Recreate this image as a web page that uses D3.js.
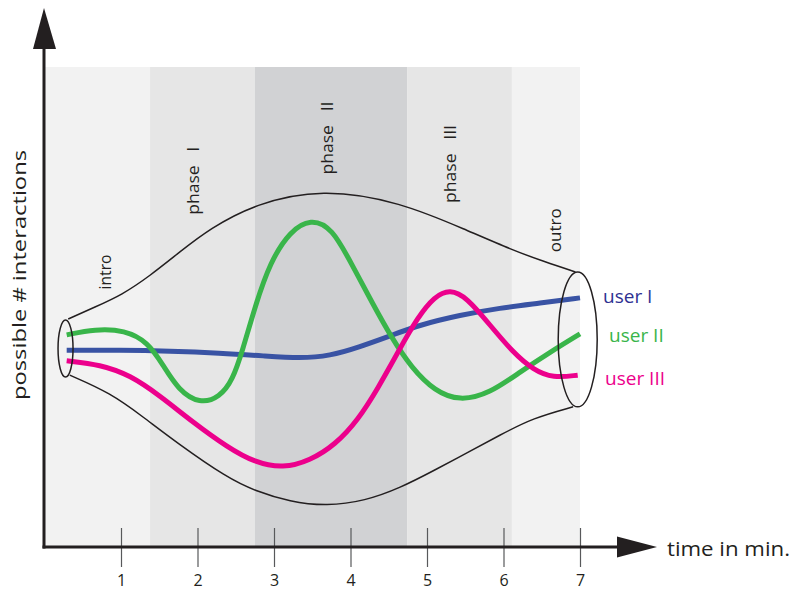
<!DOCTYPE html>
<html>
<head>
<meta charset="utf-8">
<script src="https://cdn.jsdelivr.net/npm/d3@7"></script>
<style>
  html, body { margin: 0; padding: 0; background: #ffffff; }
  svg { display: block; }
  text { font-family: "Open Sans", "Noto Sans", sans-serif; fill: #231f20; }
</style>
</head>
<body>
<svg id="chart" width="794" height="591"></svg>
<script>
// ---------------- data ----------------
const tickValues = [1, 2, 3, 4, 5, 6, 7];

const phaseNames = ["intro", "phase   I", "phase   II", "phase   III", "outro"];
const phaseStart = [0, 1.38, 2.75, 4.74, 6.11];
const phaseEnd   = [1.38, 2.75, 4.74, 6.11, 7.0];

const seriesNames = ["user I", "user II", "user III"];

// [time in min, possible # interactions]
const userI = [
  [0.29, 4.10], [0.99, 4.10], [1.64, 4.08], [2.29, 4.04], [2.88, 3.98],
  [3.34, 3.93], [3.73, 3.98], [4.12, 4.17], [4.52, 4.40], [4.91, 4.63],
  [5.43, 4.83], [5.95, 4.98], [6.48, 5.08], [7.00, 5.19]
];
const userII = [
  [0.29, 4.42], [0.66, 4.54], [1.05, 4.52], [1.35, 4.27], [1.55, 3.79],
  [1.75, 3.27], [2.03, 2.98], [2.29, 3.12], [2.46, 3.48], [2.59, 4.10],
  [2.75, 5.00], [2.95, 5.94], [3.21, 6.58], [3.48, 6.84], [3.76, 6.65],
  [4.02, 5.88], [4.28, 5.10], [4.54, 4.35], [4.80, 3.73], [5.10, 3.25],
  [5.43, 3.04], [5.82, 3.20], [6.22, 3.65], [6.61, 4.06], [7.00, 4.44]
];
const userIII = [
  [0.29, 3.88], [0.73, 3.80], [1.12, 3.58], [1.51, 3.15], [1.94, 2.60],
  [2.39, 2.08], [2.75, 1.76], [3.12, 1.64], [3.47, 1.80], [3.80, 2.13],
  [4.10, 2.65], [4.36, 3.31], [4.62, 4.06], [4.88, 4.79], [5.10, 5.22],
  [5.30, 5.37], [5.52, 5.20], [5.82, 4.63], [6.12, 4.06], [6.39, 3.69],
  [6.65, 3.52], [6.97, 3.58]
];

// envelope of possible interactions
const envelopeTop = [
  [0.31, 4.75], [0.66, 5.00], [1.01, 5.25], [1.38, 5.65], [1.77, 6.15],
  [2.16, 6.63], [2.75, 7.15], [3.63, 7.47], [4.65, 7.19], [5.52, 6.60],
  [6.11, 6.19], [6.54, 5.94], [6.94, 5.73]
];
const envelopeBottom = [
  [0.33, 3.58], [0.86, 3.21], [1.29, 2.71], [1.73, 2.17], [2.39, 1.44],
  [2.75, 1.17], [3.21, 0.94], [3.69, 0.85], [4.19, 0.96], [4.65, 1.23],
  [5.10, 1.60], [5.52, 1.96], [5.95, 2.33], [6.39, 2.69], [6.91, 2.92]
];
// openings of the funnel: time, lower and upper bound
const openingTime  = [0.275, 6.97];
const openingLow   = [3.54, 2.92];
const openingHigh  = [4.73, 5.73];

// ---------------- layout / style ----------------
const svg = d3.select("#chart");
const x = d3.scaleLinear().domain([0, 7]).range([44.5, 580]);
const y = d3.scaleLinear().domain([0, 10]).range([547, 67]);

const phaseFill = ["#f2f2f2", "#e6e6e6", "#d1d2d4", "#e6e6e6", "#f2f2f2"];
const phaseLabelPos = [[0.79, 5.73], [1.94, 7.63], [3.69, 8.52], [5.30, 7.98], [6.67, 6.60]];
const phaseLabelLen = [35, 68, 73, 78, 44];
const seriesColor = ["#3953a4", "#39b54a", "#ec008c"];
const legendColor = ["#2e3192", "#39b54a", "#ec008c"];
const openingRx = [7.5, 19.5];
const ink = "#231f20";

// phase bands
svg.append("g").selectAll("rect")
  .data(phaseNames)
  .join("rect")
  .attr("x", (d, i) => x(phaseStart[i]))
  .attr("width", (d, i) => x(phaseEnd[i]) - x(phaseStart[i]))
  .attr("y", y(10))
  .attr("height", y(0) - y(10))
  .attr("fill", (d, i) => phaseFill[i]);

// phase labels
svg.append("g").selectAll("text")
  .data(phaseNames)
  .join("text")
  .attr("transform", (d, i) => `translate(${x(phaseLabelPos[i][0])},${y(phaseLabelPos[i][1])}) rotate(-90)`)
  .attr("text-anchor", "middle")
  .attr("dominant-baseline", "central")
  .attr("xml:space", "preserve")
  .style("white-space", "pre")
  .attr("font-size", 15.5)
  .attr("textLength", (d, i) => phaseLabelLen[i])
  .attr("lengthAdjust", "spacingAndGlyphs")
  .text(d => d);

// x ticks (crossing the axis)
const xAxis = d3.axisBottom(x).tickValues(tickValues).tickSize(20).tickPadding(10).tickFormat(d3.format("d"));
const gx = svg.append("g").attr("transform", `translate(0,${y(0)})`).call(xAxis);
gx.select(".domain").remove();
gx.selectAll(".tick line").attr("y1", -19).attr("stroke", "#58595b").attr("stroke-width", 1.2);
gx.selectAll(".tick text")
  .attr("font-size", 16)
  .attr("font-family", "'Open Sans', sans-serif")
  .attr("fill", ink)
  .attr("dy", null)
  .attr("y", 39);

// envelope
const curve = d3.line().x(d => x(d[0])).y(d => y(d[1])).curve(d3.curveBasis);
svg.append("path").attr("d", curve(envelopeTop)).attr("fill", "none").attr("stroke", ink).attr("stroke-width", 1.5);
svg.append("path").attr("d", curve(envelopeBottom)).attr("fill", "none").attr("stroke", ink).attr("stroke-width", 1.5);

// user lines
const users = [userI, userII, userIII];
svg.append("g").selectAll("path")
  .data(users)
  .join("path")
  .attr("d", d => curve(d))
  .attr("fill", "none")
  .attr("stroke", (d, i) => seriesColor[i])
  .attr("stroke-width", 5)
  .attr("stroke-linecap", "butt");

// funnel openings
svg.append("g").selectAll("ellipse")
  .data(openingTime)
  .join("ellipse")
  .attr("cx", d => x(d))
  .attr("cy", (d, i) => (y(openingLow[i]) + y(openingHigh[i])) / 2)
  .attr("rx", (d, i) => openingRx[i])
  .attr("ry", (d, i) => (y(openingLow[i]) - y(openingHigh[i])) / 2)
  .attr("fill", "none")
  .attr("stroke", ink)
  .attr("stroke-width", 1.5);

// legend labels
const legendPos = [[603, 296], [609, 335], [605, 378]];
svg.append("g").selectAll("text")
  .data(seriesNames)
  .join("text")
  .attr("x", (d, i) => legendPos[i][0])
  .attr("y", (d, i) => legendPos[i][1])
  .attr("dominant-baseline", "central")
  .attr("font-size", 19)
  .style("fill", (d, i) => legendColor[i])
  .text(d => d);

// axes with arrows
const axisG = svg.append("g");
axisG.append("line")
  .attr("x1", x(0) - 0.5).attr("x2", x(0) - 0.5)
  .attr("y1", y(0) + 1.5).attr("y2", 45)
  .attr("stroke", ink).attr("stroke-width", 3);
axisG.append("path")
  .attr("d", `M${x(0) - 11.5},49 L${x(0) - 0.5},8 L${x(0) + 11.5},49 Z`)
  .attr("fill", ink);
axisG.append("line")
  .attr("x1", x(0) - 2).attr("x2", 620)
  .attr("y1", y(0)).attr("y2", y(0))
  .attr("stroke", ink).attr("stroke-width", 3);
axisG.append("path")
  .attr("d", `M617,${y(0) - 10.5} L657,${y(0)} L617,${y(0) + 10.5} Z`)
  .attr("fill", ink);

// axis titles
svg.append("text")
  .attr("x", 667).attr("y", y(0) + 1)
  .attr("dominant-baseline", "central")
  .attr("font-size", 20)
  .attr("textLength", 123)
  .attr("lengthAdjust", "spacingAndGlyphs")
  .text("time in min.");

svg.append("text")
  .attr("transform", "translate(19,275) rotate(-90)")
  .attr("text-anchor", "middle")
  .attr("dominant-baseline", "central")
  .attr("font-size", 19)
  .attr("textLength", 250)
  .attr("lengthAdjust", "spacingAndGlyphs")
  .text("possible # interactions");
</script>
</body>
</html>
